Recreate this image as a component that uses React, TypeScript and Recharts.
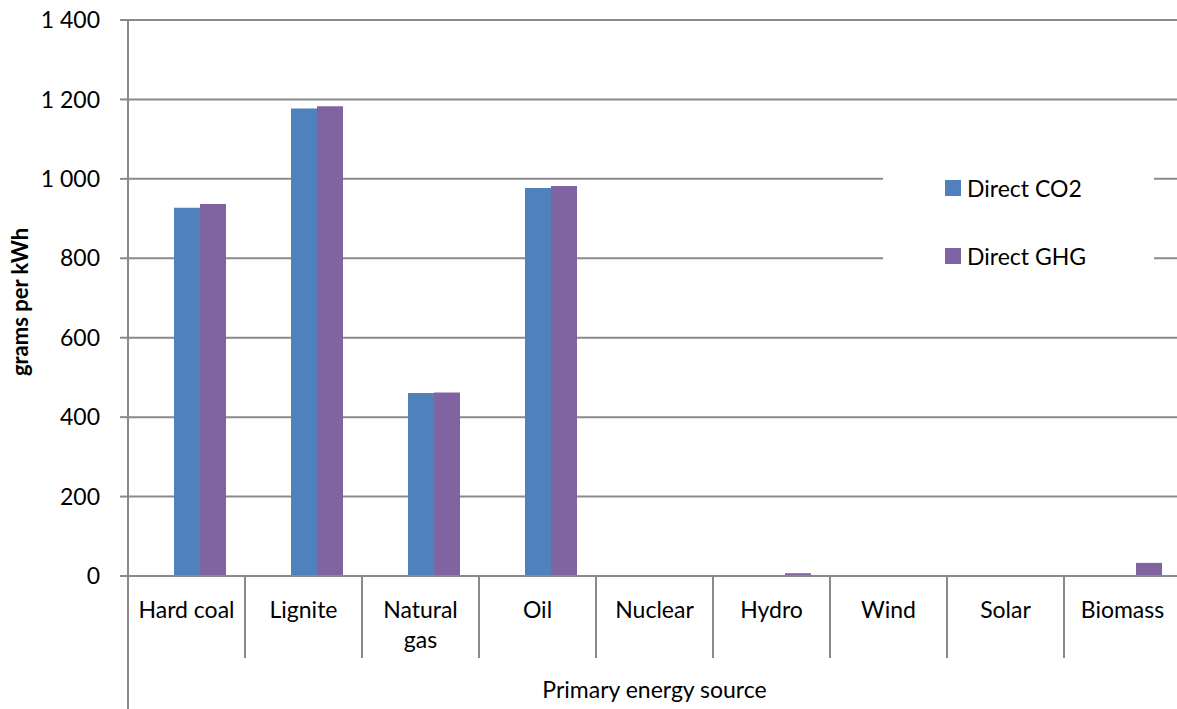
import React from 'react';
import { BarChart, Bar, XAxis, YAxis, CartesianGrid, Legend, Label } from 'recharts';

// Primary energy sources (category axis)
const categories = ['Hard coal', 'Lignite', 'Natural gas', 'Oil', 'Nuclear', 'Hydro', 'Wind', 'Solar', 'Biomass'];
// Direct emissions, grams per kWh
const directCO2 = [927, 1177, 461, 977, 0, 0, 0, 0, 0];
const directGHG = [937, 1183, 462, 982, 0, 7, 0, 0, 33];
// Value axis ticks
const yTicks = [0, 200, 400, 600, 800, 1000, 1200, 1400];

const seriesNames = { co2: 'Direct CO2', ghg: 'Direct GHG' };
const colors = { co2: '#4F81BD', ghg: '#8064A2' };
const gridColor = '#8A8A8A';
const FONT = 'Lato, "Open Sans", sans-serif';

const data = categories.map((name, i) => ({ name, co2: directCO2[i], ghg: directGHG[i] }));

const formatThousands = (v: number) => String(v).replace(/\B(?=(\d{3})+(?!\d))/g, ' ');

// Category tick: label (wrapped when long) plus the separator lines of the category band
const CategoryTick = (props: any) => {
  const { x, y, payload, index, width, visibleTicksCount } = props;
  const band = width / visibleTicksCount;
  const label: string = payload.value;
  const lines = label.length > 10 ? label.split(' ') : [label];
  return (
    <g>
      {index === 0 && (
        <line x1={x - band / 2} x2={x - band / 2} y1={y} y2={y + 140} stroke={gridColor} strokeWidth={2} />
      )}
      <line x1={x + band / 2} x2={x + band / 2} y1={y} y2={y + 82} stroke={gridColor} strokeWidth={2} />
      <text x={x} y={y + 42} textAnchor="middle" fontSize={23} fill="#000" fontFamily={FONT}>
        {lines.map((ln, i) => (
          <tspan key={i} x={x} dy={i === 0 ? 0 : 30}>
            {ln}
          </tspan>
        ))}
      </text>
    </g>
  );
};

const LegendBox = (props: any) => {
  const items = (props.payload || []).filter((p: any) => p.type !== 'none');
  return (
    <div style={{ position: 'relative', width: '100%', height: '100%', background: '#fff' }}>
      {items.map((p: any, i: number) => (
        <div
          key={p.value}
          style={{
            position: 'absolute',
            left: 62,
            top: 24 + i * 68,
            display: 'flex',
            alignItems: 'center',
            fontFamily: FONT,
            fontSize: 23,
            color: '#000',
            lineHeight: '28px',
          }}
        >
          <span style={{ display: 'inline-block', width: 16, height: 16, background: p.color, marginRight: 6 }} />
          <span>{p.value}</span>
        </div>
      ))}
    </div>
  );
};

export default function App() {
  return (
    <div style={{ position: 'absolute', left: 0, top: 0, width: 1177, height: 709, overflow: 'hidden', background: '#fff' }}>
      <BarChart
        width={1190}
        height={709}
        data={data}
        margin={{ top: 20, right: 9, left: 0, bottom: 0 }}
        barSize={26}
        barGap={0}
        style={{ fontFamily: FONT }}
      >
        <CartesianGrid horizontal vertical={false} stroke={gridColor} strokeWidth={2} />
        <XAxis
          dataKey="name"
          height={133}
          tickSize={0}
          tickMargin={0}
          tickLine={false}
          interval={0}
          axisLine={{ stroke: gridColor, strokeWidth: 2 }}
          tick={<CategoryTick />}
        >
          <Label
            value="Primary energy source"
            position="insideBottom"
            offset={11}
            style={{ fontSize: 23, fill: '#000', fontFamily: FONT }}
          />
        </XAxis>
        <YAxis
          width={128}
          domain={[0, 1400]}
          ticks={yTicks}
          interval={0}
          tickSize={8}
          tickMargin={20}
          tickLine={{ stroke: gridColor, strokeWidth: 2 }}
          axisLine={{ stroke: gridColor, strokeWidth: 2 }}
          tick={{ fontSize: 23, fill: '#000', fontFamily: FONT }}
          tickFormatter={formatThousands}
        >
          <Label
            content={(p: any) => {
              const vb = p.viewBox;
              const cx = 28;
              const cy = vb.y + vb.height / 2 + 4;
              return (
                <text
                  x={cx}
                  y={cy}
                  transform={`rotate(-90 ${cx} ${cy})`}
                  textAnchor="middle"
                  fontSize={22}
                  fontWeight="bold"
                  fill="#000"
                  fontFamily={FONT}
                >
                  grams per kWh
                </text>
              );
            }}
          />
        </YAxis>
        <Legend
          layout="vertical"
          align="center"
          verticalAlign="middle"
          wrapperStyle={{ left: 883, top: 150, width: 271, height: 130 }}
          content={<LegendBox />}
        />
        {/* empty leading slot: the bar pair sits right of the band centre */}
        <Bar dataKey={() => null} fill="none" legendType="none" isAnimationActive={false} />
        <Bar dataKey="co2" name={seriesNames.co2} fill={colors.co2} isAnimationActive={false} />
        <Bar dataKey="ghg" name={seriesNames.ghg} fill={colors.ghg} isAnimationActive={false} />
      </BarChart>
    </div>
  );
}
